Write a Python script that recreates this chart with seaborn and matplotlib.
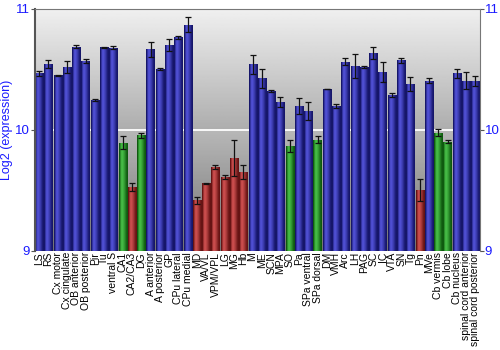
import numpy as np
import pandas as pd
import matplotlib
matplotlib.use("Agg")
import matplotlib.pyplot as plt
import seaborn as sns
from matplotlib.colors import to_rgb

labels = ["LS", "RS", "Cx motor", "Cx cingulate", "OB anterior", "OB posterior", "Pir", "Tu",
          "ventral S", "CA1", "CA2/CA3", "DG", "A anterior", "A posterior", "GP", "CPu lateral",
          "CPu medial", "MD", "VA/VL", "VPM/VPL", "LG", "MG", "Hb", "M", "ME", "SCN", "MPA",
          "SO", "Pa", "SPa ventral", "SPa dorsal", "DM", "VMH", "Arc", "LH", "PAG", "SC", "IC",
          "VTA", "SN", "Tg", "Pn", "MVe", "Cb vermis", "Cb lobe", "Cb nucleus",
          "spinal cord anterior", "spinal cord posterior"]
values = [10.467, 10.545, 10.453, 10.517, 10.688, 10.572, 10.246, 10.685,
          10.680, 9.895, 9.528, 9.956, 10.666, 10.503, 10.700, 10.765,
          10.870, 9.417, 9.558, 9.693, 9.610, 9.768, 9.652, 10.541, 10.425, 10.323, 10.232,
          9.867, 10.200, 10.157, 9.920, 10.337, 10.199, 10.564, 10.525, 10.520, 10.633, 10.478,
          10.290, 10.577, 10.380, 9.500, 10.406, 9.975, 9.903, 10.467,
          10.406, 10.406]
errors = [0.02, 0.03, 0.004, 0.05, 0.01, 0.015, 0.01, 0.004,
          0.015, 0.05, 0.03, 0.02, 0.065, 0.005, 0.05, 0.01,
          0.06, 0.03, 0.003, 0.02, 0.015, 0.15, 0.06, 0.08, 0.08, 0.01, 0.04,
          0.05, 0.065, 0.075, 0.03, 0.003, 0.015, 0.03, 0.10, 0.005, 0.05, 0.08,
          0.015, 0.02, 0.06, 0.09, 0.02, 0.03, 0.01, 0.035,
          0.07, 0.04]
groups = ["high"] * 9 + ["mid", "low", "mid"] + ["high"] * 5 + ["low"] * 6 + ["high"] * 4 + \
         ["mid", "high", "high", "mid"] + ["high"] * 10 + ["low", "high", "mid", "mid", "high", "high", "high"]
yticks = [9, 10, 11]

palette = {"high": "#3030b0", "mid": "#2a9a2a", "low": "#b03030"}
edge = {"high": "#16166a", "mid": "#0f5a0f", "low": "#661414"}
light = {"high": "#5252d8", "mid": "#48c048", "low": "#d05050"}

df = pd.DataFrame({"region": labels, "value": values, "err": errors, "group": groups})

fig = plt.figure(figsize=(5, 3.5), dpi=100)
ax = fig.add_axes([0.069, 0.2837, 0.891, 0.6906])

ymin, ymax = 9, 11
# background gradient (top row first)
top_part = np.linspace(0.94, 0.68, 100)
bot_part = np.linspace(0.72, 0.45, 100)
bg = np.concatenate([top_part, bot_part]).reshape(-1, 1)
ax.imshow(bg, cmap="gray", vmin=0, vmax=1, origin="upper",
          extent=(-0.5, len(labels) - 0.5, ymin, ymax), aspect="auto", zorder=0)
ax.axhline(10, color="white", lw=1.3, zorder=0.8)

sns.barplot(data=df, x="region", y="value", hue="group", palette=palette, dodge=False,
            legend=False, width=0.88, ax=ax, zorder=1, errorbar=None)

# gradient fill for each bar
prof = np.array([0.0, 0.6, 1.0, 0.9, 0.7, 0.45, 0.15, 0.0])
bars = sorted([p for p in ax.patches if p.get_height() > 0], key=lambda p: p.get_x())
for p, g in zip(bars, groups):
    c0 = np.array(to_rgb(edge[g]))
    c1 = np.array(to_rgb(light[g]))
    row = c0[None, :] + prof[:, None] * (c1 - c0)[None, :]
    x0, w, h = p.get_x(), p.get_width(), p.get_height()
    im = ax.imshow(row[None, :, :], extent=(x0, x0 + w, ymin, h), aspect="auto",
                   interpolation="bilinear", zorder=1.5)
    im.set_clip_path(p)

ax.errorbar(np.arange(len(labels)), df["value"], yerr=df["err"], fmt="none",
            ecolor="#111111", elinewidth=0.9, capsize=2, capthick=0.9, zorder=3)

ax.set_xlim(-0.5, len(labels) - 0.5)
ax.set_ylim(ymin, ymax)
ax.set_yticks(yticks)
ax.set_yticklabels([str(v) for v in yticks])
ax.set_xlabel("")
ax.set_ylabel("Log2 (expression)", color="#1a1aff", fontsize=9, family="Liberation Sans")
ax.yaxis.set_label_coords(-0.049, 0.5)
ax.tick_params(axis="y", colors="#555555", labelcolor="#1a1aff", labelsize=9.5,
               right=True, labelright=True, length=3, pad=0.5)
ax.tick_params(axis="x", length=0, labelsize=7.5, pad=1)
for t in ax.get_xticklabels():
    t.set_rotation(90)
    t.set_family("Liberation Sans")
for tick in ax.yaxis.get_major_ticks():
    tick.label1.set_family("Liberation Sans")
    tick.label2.set_family("Liberation Sans")
for s in ax.spines.values():
    s.set_color("#777777")
ax.spines["left"].set_color("#555555")
ax.spines["left"].set_linewidth(1.5)
ax.spines["bottom"].set_visible(False)

fig.savefig("out.png", dpi=100)
